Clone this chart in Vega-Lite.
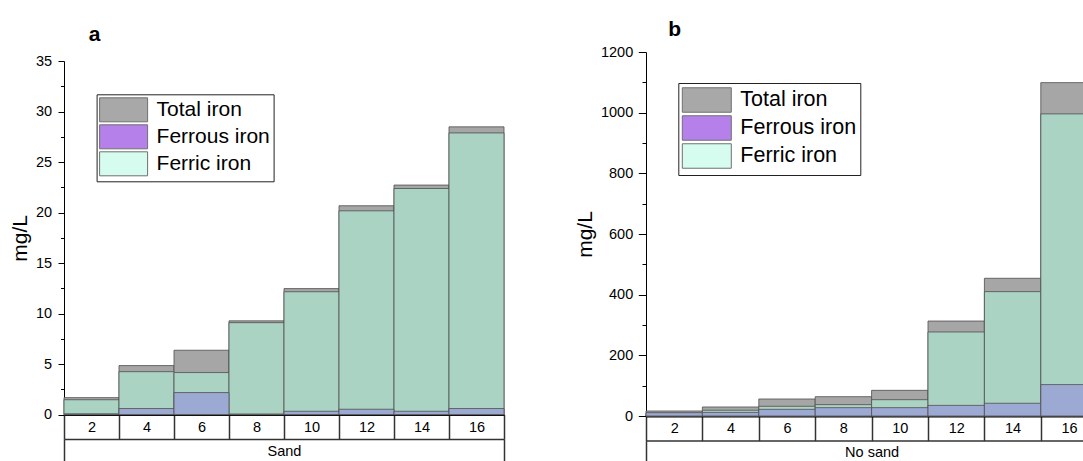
{
  "$schema": "https://vega.github.io/schema/vega-lite/v6.json",
  "padding": {"left": 9, "top": 18, "right": 0, "bottom": 0},
  "spacing": 69,
  "resolve": {"scale": {"fill": "independent", "color": "independent"}, "legend": {"fill": "independent", "color": "independent"}},
  "config": {
    "font": "Liberation Sans",
    "view": {"stroke": null},
    "axis": {"grid": false, "labelColor": "black", "titleColor": "black", "labelFont": "Liberation Sans", "titleFont": "Liberation Sans"}
  },
  "datasets": {
    "sand": [
      {"conc": "2", "series": "Total iron", "value": 1.68, "group": "Sand"},
      {"conc": "4", "series": "Total iron", "value": 4.85, "group": "Sand"},
      {"conc": "6", "series": "Total iron", "value": 6.37, "group": "Sand"},
      {"conc": "8", "series": "Total iron", "value": 9.28, "group": "Sand"},
      {"conc": "10", "series": "Total iron", "value": 12.47, "group": "Sand"},
      {"conc": "12", "series": "Total iron", "value": 20.67, "group": "Sand"},
      {"conc": "14", "series": "Total iron", "value": 22.72, "group": "Sand"},
      {"conc": "16", "series": "Total iron", "value": 28.48, "group": "Sand"},
      {"conc": "2", "series": "Ferric iron", "value": 1.47, "group": "Sand"},
      {"conc": "4", "series": "Ferric iron", "value": 4.25, "group": "Sand"},
      {"conc": "6", "series": "Ferric iron", "value": 4.16, "group": "Sand"},
      {"conc": "8", "series": "Ferric iron", "value": 9.1, "group": "Sand"},
      {"conc": "10", "series": "Ferric iron", "value": 12.16, "group": "Sand"},
      {"conc": "12", "series": "Ferric iron", "value": 20.17, "group": "Sand"},
      {"conc": "14", "series": "Ferric iron", "value": 22.38, "group": "Sand"},
      {"conc": "16", "series": "Ferric iron", "value": 27.88, "group": "Sand"},
      {"conc": "2", "series": "Ferrous iron", "value": 0.08, "group": "Sand"},
      {"conc": "4", "series": "Ferrous iron", "value": 0.6, "group": "Sand"},
      {"conc": "6", "series": "Ferrous iron", "value": 2.18, "group": "Sand"},
      {"conc": "8", "series": "Ferrous iron", "value": 0.06, "group": "Sand"},
      {"conc": "10", "series": "Ferrous iron", "value": 0.33, "group": "Sand"},
      {"conc": "12", "series": "Ferrous iron", "value": 0.53, "group": "Sand"},
      {"conc": "14", "series": "Ferrous iron", "value": 0.33, "group": "Sand"},
      {"conc": "16", "series": "Ferrous iron", "value": 0.6, "group": "Sand"}
    ],
    "nosand": [
      {"conc": "2", "series": "Total iron", "value": 16.5, "group": "No sand"},
      {"conc": "4", "series": "Total iron", "value": 29.7, "group": "No sand"},
      {"conc": "6", "series": "Total iron", "value": 56, "group": "No sand"},
      {"conc": "8", "series": "Total iron", "value": 63.7, "group": "No sand"},
      {"conc": "10", "series": "Total iron", "value": 84.6, "group": "No sand"},
      {"conc": "12", "series": "Total iron", "value": 313, "group": "No sand"},
      {"conc": "14", "series": "Total iron", "value": 454, "group": "No sand"},
      {"conc": "16", "series": "Total iron", "value": 1099, "group": "No sand"},
      {"conc": "2", "series": "Ferric iron", "value": 5.5, "group": "No sand"},
      {"conc": "4", "series": "Ferric iron", "value": 19, "group": "No sand"},
      {"conc": "6", "series": "Ferric iron", "value": 32, "group": "No sand"},
      {"conc": "8", "series": "Ferric iron", "value": 37.4, "group": "No sand"},
      {"conc": "10", "series": "Ferric iron", "value": 53.8, "group": "No sand"},
      {"conc": "12", "series": "Ferric iron", "value": 277, "group": "No sand"},
      {"conc": "14", "series": "Ferric iron", "value": 410, "group": "No sand"},
      {"conc": "16", "series": "Ferric iron", "value": 996, "group": "No sand"},
      {"conc": "2", "series": "Ferrous iron", "value": 11, "group": "No sand"},
      {"conc": "4", "series": "Ferrous iron", "value": 12, "group": "No sand"},
      {"conc": "6", "series": "Ferrous iron", "value": 22, "group": "No sand"},
      {"conc": "8", "series": "Ferrous iron", "value": 27.5, "group": "No sand"},
      {"conc": "10", "series": "Ferrous iron", "value": 27.5, "group": "No sand"},
      {"conc": "12", "series": "Ferrous iron", "value": 35, "group": "No sand"},
      {"conc": "14", "series": "Ferrous iron", "value": 42, "group": "No sand"},
      {"conc": "16", "series": "Ferrous iron", "value": 103.5, "group": "No sand"}
    ]
  },
  "hconcat": [
    {
      "width": 440,
      "height": 362.6,
      "data": {"name": "sand"},
      "resolve": {"scale": {"x": "independent"}, "axis": {"y": "independent", "x": "independent"}},
      "layer": [
        {
          "mark": {"type": "bar", "stroke": "#555555", "strokeWidth": 1, "strokeOpacity": 0.85},
          "encoding": {
            "x": {"field": "conc", "type": "ordinal",
              "scale": {"domain": ["2", "4", "6", "8", "10", "12", "14", "16"], "paddingInner": 0, "paddingOuter": 0},
              "axis": {"orient": "bottom", "title": null, "labelAngle": 0, "domainColor": "black", "domainWidth": 2, "tickBand": "extent", "tickSize": 24.5, "tickColor": "#333333", "tickWidth": 1.5, "labelFontSize": 14.5, "labelBaseline": "middle", "labelPadding": -12, "labelColor": "black"}},
            "y": {"field": "value", "type": "quantitative", "stack": null,
              "scale": {"domain": [0, 35], "nice": false, "range": [362.6, 9]},
              "axis": {"orient": "left", "values": [0, 5, 10, 15, 20, 25, 30, 35], "title": "mg/L", "titleFontSize": 21, "titleFontWeight": "normal", "titlePadding": 5, "labelFontSize": 14.5, "labelPadding": 6.4, "tickSize": 6, "tickColor": "black", "domainColor": "black", "domainWidth": 1}},
            "color": {"field": "series", "type": "nominal",
              "scale": {"domain": ["Total iron", "Ferric iron", "Ferrous iron"], "range": ["#a6a6a6", "#aad3c4", "#9ca9d2"]},
              "legend": null}
          }
        },
        {
          "mark": {"type": "bar", "opacity": 0},
          "encoding": {
            "x": {"field": "group", "type": "nominal", "scale": {"paddingInner": 0, "paddingOuter": 0},
              "axis": {"orient": "bottom", "offset": 24.5, "title": null, "labelAngle": 0, "domainColor": "#333333", "domainWidth": 1.5, "tickBand": "extent", "tickSize": 23, "tickColor": "#333333", "tickWidth": 1.5, "labelFontSize": 14.5, "labelBaseline": "middle", "labelPadding": -10.3, "labelColor": "black"}},
            "y": {"field": "value", "type": "quantitative", "stack": null,
              "axis": {"orient": "left", "values": [2.5, 7.5, 12.5, 17.5, 22.5, 27.5, 32.5], "labels": false, "domain": false, "tickSize": 3.5, "tickColor": "black",
                "title": "a", "titleAngle": 0, "titleX": 24.3, "titleY": -11.7, "titleAlign": "left", "titleBaseline": "alphabetic", "titleFontSize": 21, "titleFontWeight": "bold", "titleColor": "black"}},
            "fill": {"field": "series", "type": "nominal",
              "scale": {"domain": ["Total iron", "Ferrous iron", "Ferric iron"], "range": ["#a8a8a8", "#b580ea", "#d6fcef"]},
              "legend": {"orient": "none", "legendX": 32.6, "legendY": 42.3, "title": null,
                "symbolType": "M-2,-1H2V1H-2Z", "symbolSize": 576, "symbolStrokeWidth": 1, "symbolStrokeColor": "#707070", "symbolOpacity": 1,
                "labelFontSize": 21, "labelFont": "Liberation Sans", "labelColor": "black", "labelOffset": 20.5, "labelLimit": 400,
                "rowPadding": -2.4, "padding": 3, "strokeColor": "#222222", "fillColor": "white", "symbolOffset": 11.5}}
          }
        }
      ]
    },
    {
      "width": 451.2,
      "height": 364,
      "data": {"name": "nosand"},
      "resolve": {"scale": {"x": "independent"}, "axis": {"y": "independent", "x": "independent"}},
      "layer": [
        {
          "mark": {"type": "bar", "stroke": "#555555", "strokeWidth": 1, "strokeOpacity": 0.85},
          "encoding": {
            "x": {"field": "conc", "type": "ordinal",
              "scale": {"domain": ["2", "4", "6", "8", "10", "12", "14", "16"], "paddingInner": 0, "paddingOuter": 0},
              "axis": {"orient": "bottom", "title": null, "labelAngle": 0, "domainColor": "black", "domainWidth": 2, "tickBand": "extent", "tickSize": 24.6, "tickColor": "#333333", "tickWidth": 1.5, "labelFontSize": 14.5, "labelBaseline": "middle", "labelPadding": -12.6, "labelColor": "black"}},
            "y": {"field": "value", "type": "quantitative", "stack": null,
              "scale": {"domain": [0, 1200], "nice": false},
              "axis": {"orient": "left", "values": [0, 200, 400, 600, 800, 1000, 1200], "format": "d", "title": "mg/L", "titleFontSize": 21, "titleFontWeight": "normal", "titlePadding": 5, "labelFontSize": 14.5, "labelPadding": 5.6, "tickSize": 7.7, "tickColor": "black", "domainColor": "black", "domainWidth": 1}},
            "color": {"field": "series", "type": "nominal",
              "scale": {"domain": ["Total iron", "Ferric iron", "Ferrous iron"], "range": ["#a6a6a6", "#aad3c4", "#9ca9d2"]},
              "legend": null}
          }
        },
        {
          "mark": {"type": "bar", "opacity": 0},
          "encoding": {
            "x": {"field": "group", "type": "nominal", "scale": {"paddingInner": 0, "paddingOuter": 0},
              "axis": {"orient": "bottom", "offset": 24.6, "title": null, "labelAngle": 0, "domainColor": "#333333", "domainWidth": 1.5, "tickBand": "extent", "tickSize": 23, "tickColor": "#333333", "tickWidth": 1.5, "labelFontSize": 14.5, "labelBaseline": "middle", "labelPadding": -10.8, "labelColor": "black"}},
            "y": {"field": "value", "type": "quantitative", "stack": null,
              "axis": {"orient": "left", "values": [100, 300, 500, 700, 900, 1100], "labels": false, "domain": false, "tickSize": 4, "tickColor": "black",
                "title": "b", "titleAngle": 0, "titleX": 21.7, "titleY": -16.7, "titleAlign": "left", "titleBaseline": "alphabetic", "titleFontSize": 21, "titleFontWeight": "bold", "titleColor": "black"}},
            "fill": {"field": "series", "type": "nominal",
              "scale": {"domain": ["Total iron", "Ferrous iron", "Ferric iron"], "range": ["#a8a8a8", "#b580ea", "#d6fcef"]},
              "legend": {"orient": "none", "legendX": 32.3, "legendY": 31, "title": null,
                "symbolType": "M-2,-1H2V1H-2Z", "symbolSize": 600, "symbolStrokeWidth": 1, "symbolStrokeColor": "#707070", "symbolOpacity": 1,
                "labelFontSize": 21.5, "labelFont": "Liberation Sans", "labelColor": "black", "labelOffset": 20.5, "labelLimit": 400,
                "rowPadding": -2.4, "padding": 4, "strokeColor": "#222222", "fillColor": "white", "symbolOffset": 11.5}}
          }
        }
      ]
    }
  ]
}
